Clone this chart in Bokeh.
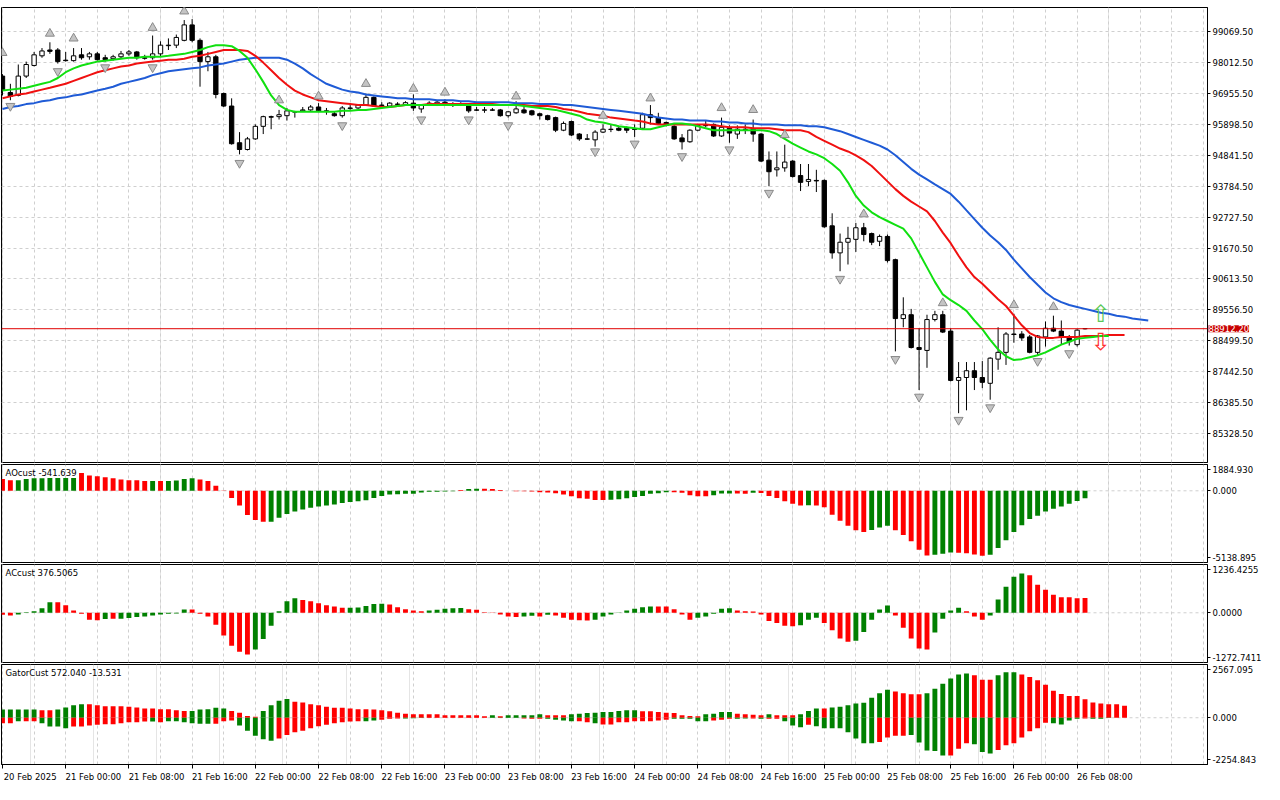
from bokeh.plotting import figure
from bokeh.layouts import column
from bokeh.models import (Range1d, FixedTicker, PrintfTickFormatter, Span, Label, Grid,
                          ColumnDataSource)
from bokeh.embed import file_html
from bokeh.resources import INLINE
from bokeh.core.properties import value

# ---------------- data (H1 bars, 20 Feb 16:00 .. 26 Feb 09:00) ----------------
open_ = [97550, 96988, 96889, 97550, 97913, 98243, 98442, 98442, 98094, 98078,
         98277, 98210, 98310, 98177, 98144, 98210, 98310, 98376, 98177, 98177,
         98310, 98590, 98607, 98772, 99300, 98772, 98045, 98210, 96955, 96526,
         95271, 95040, 95403, 95832, 96163, 96163, 96196, 96328, 96361, 96394,
         96493, 96361, 96262, 96196, 96460, 96460, 96559, 96823, 96559, 96526,
         96592, 96559, 96625, 96427, 96625, 96592, 96658, 96592, 96592, 96526,
         96394, 96384, 96394, 96394, 96196, 96295, 96394, 96361, 96262, 96196,
         96130, 95700, 95997, 95568, 95403, 95370, 95634, 95733, 95766, 95766,
         95733, 95766, 96229, 96130, 95964, 95832, 95436, 95304, 95700, 95865,
         95898, 95502, 95766, 95568, 95733, 95733, 95568, 94676, 94346, 94412,
         94643, 94148, 93949, 93983, 93983, 92430, 91505, 91869, 91968, 92364,
         92166, 91902, 92067, 91274, 89259, 89391, 88269, 88170, 89226, 89391,
         88830, 87145, 87244, 87476, 87244, 87046, 87872, 88104, 88731, 88731,
         88632, 88104, 88632, 88929, 88830, 88632, 88368, 88915]
high = [97616, 97286, 97946, 98045, 98376, 98508, 98706, 98508, 98376, 98508,
        98508, 98376, 98376, 98277, 98277, 98409, 98442, 98409, 98277, 98937,
        98739, 98838, 98970, 99466, 99499, 98838, 98376, 98277, 96988, 96790,
        95634, 95469, 95898, 96196, 96196, 96394, 96460, 96361, 96493, 96559,
        96625, 96460, 96328, 96526, 96559, 96592, 96955, 96856, 96658, 96658,
        96658, 96691, 96922, 96592, 96691, 96724, 96757, 96658, 96658, 96559,
        96493, 96493, 96460, 96427, 96361, 96691, 96526, 96394, 96295, 96229,
        96163, 95997, 96030, 95601, 95568, 95700, 95898, 95898, 95832, 95832,
        95898, 96295, 96559, 96295, 95997, 95865, 95568, 95733, 95898, 96030,
        95931, 96130, 95865, 95865, 95898, 96064, 95601, 94973, 94973, 95205,
        94676, 94544, 94544, 94346, 94016, 92859, 92166, 92397, 92529, 92529,
        92199, 92133, 92133, 91307, 89986, 89590, 88929, 89391, 89524, 89524,
        88929, 87773, 87773, 87773, 87806, 87938, 88962, 88797, 89424, 88830,
        88698, 88698, 89160, 89358, 89193, 88698, 88896, 88930]
low = [96889, 96724, 96856, 97484, 97880, 98177, 98310, 97978, 98045, 98045,
       98111, 98111, 98078, 98045, 98078, 98144, 98243, 98111, 98111, 98111,
       98210, 98442, 98508, 98739, 98706, 97187, 97715, 96790, 96493, 95205,
       94874, 95006, 95370, 95568, 95733, 96064, 96030, 96130, 96328, 96361,
       96328, 96229, 96163, 96130, 96394, 96427, 96526, 96493, 96493, 96493,
       96493, 96526, 96361, 96295, 96526, 96526, 96559, 96493, 96526, 96295,
       96361, 96295, 96361, 96163, 96130, 96262, 96262, 96196, 96064, 96030,
       95634, 95667, 95502, 95337, 95370, 95139, 95601, 95634, 95667, 95601,
       95469, 95733, 95898, 95898, 95832, 95370, 95040, 95271, 95667, 95799,
       95469, 95469, 95271, 95403, 95568, 95304, 94610, 93784, 94115, 94280,
       94082, 93619, 93784, 93586, 92364, 91307, 90878, 91108, 91538, 91902,
       91770, 91737, 91175, 88137, 88962, 88236, 86815, 87575, 89160, 88764,
       87112, 86023, 86122, 86815, 86881, 86485, 87509, 87674, 88434, 88500,
       88071, 88004, 88302, 88797, 88368, 88335, 88302, 88890]
close = [97087, 96856, 97550, 97946, 98277, 98409, 98395, 98045, 98078, 98243,
         98177, 98310, 98111, 98111, 98210, 98310, 98376, 98177, 98160, 98310,
         98607, 98607, 98871, 99300, 98772, 98045, 98210, 96922, 96526, 95238,
         95040, 95403, 95832, 96163, 96146, 96229, 96361, 96318, 96394, 96493,
         96361, 96345, 96196, 96460, 96444, 96559, 96823, 96526, 96542, 96625,
         96582, 96641, 96460, 96559, 96615, 96658, 96592, 96575, 96559, 96361,
         96384, 96394, 96384, 96196, 96328, 96427, 96295, 96229, 96196, 96064,
         95700, 95931, 95535, 95403, 95393, 95634, 95733, 95723, 95700, 95700,
         95723, 96229, 96130, 95931, 95865, 95403, 95304, 95700, 95865, 95855,
         95502, 95799, 95601, 95733, 95723, 95568, 94643, 94280, 94412, 94610,
         94115, 93916, 94016, 93966, 92397, 91505, 91869, 92001, 92364, 92133,
         91869, 92067, 91241, 89259, 89391, 88269, 88203, 89226, 89391, 88797,
         87145, 87244, 87476, 87244, 87079, 87905, 88104, 88731, 88715, 88599,
         88104, 88665, 88929, 88830, 88632, 88467, 88863, 88912.20]

# Alligator (jaw shifted 8, teeth 5, lips 3 bars forward)
jaw = [96427, 96493, 96526, 96592, 96625, 96691, 96724, 96790, 96823, 96889,
       96922, 96988, 97054, 97120, 97187, 97286, 97352, 97418, 97484, 97583,
       97649, 97715, 97748, 97781, 97814, 97847, 97913, 97946, 97978, 98045,
       98111, 98144, 98177, 98177, 98177, 98177, 98111, 97978, 97814, 97616,
       97451, 97286, 97187, 97087, 97021, 96988, 96922, 96889, 96856, 96823,
       96790, 96790, 96757, 96757, 96757, 96724, 96724, 96724, 96691, 96691,
       96658, 96658, 96658, 96658, 96658, 96625, 96625, 96625, 96592, 96592,
       96592, 96559, 96559, 96526, 96493, 96460, 96427, 96394, 96361, 96328,
       96295, 96262, 96196, 96130, 96097, 96064, 96064, 96030, 96030, 96030,
       95997, 95997, 95964, 95964, 95931, 95931, 95898, 95898, 95898, 95865,
       95865, 95865, 95832, 95832, 95799, 95733, 95667, 95568, 95469, 95370,
       95271, 95172, 95040, 94841, 94610, 94379, 94181, 94016, 93850, 93685,
       93520, 93256, 92958, 92661, 92364, 92100, 91869, 91604, 91274, 90977,
       90680, 90415, 90151, 89953, 89821, 89722, 89656, 89590, 89524, 89457,
       89424, 89358, 89325, 89259, 89226, 89193]
teeth = [96790, 96856, 96922, 96955, 97021, 97087, 97153, 97220, 97286, 97385,
         97484, 97583, 97682, 97748, 97814, 97880, 97913, 97978, 98011, 98045,
         98078, 98111, 98111, 98144, 98210, 98243, 98310, 98376, 98442, 98442,
         98442, 98409, 98243, 98011, 97748, 97484, 97253, 97054, 96922, 96823,
         96724, 96691, 96658, 96625, 96592, 96559, 96559, 96526, 96493, 96493,
         96526, 96559, 96559, 96559, 96592, 96592, 96592, 96592, 96592, 96592,
         96592, 96592, 96592, 96559, 96559, 96559, 96559, 96526, 96526, 96526,
         96493, 96427, 96394, 96328, 96262, 96229, 96196, 96130, 96097, 96064,
         96030, 95997, 95931, 95898, 95898, 95898, 95898, 95898, 95898, 95898,
         95865, 95832, 95799, 95799, 95799, 95766, 95766, 95766, 95733, 95700,
         95700, 95700, 95634, 95469, 95337, 95205, 95073, 94973, 94841, 94676,
         94478, 94214, 93949, 93685, 93454, 93256, 93091, 92925, 92595, 92199,
         91836, 91406, 91010, 90680, 90448, 90184, 89920, 89689, 89358, 89028,
         88764, 88632, 88599, 88599, 88632, 88632, 88632, 88665, 88665, 88665,
         88698, 88698, 88698]
lips = [97054, 97087, 97120, 97153, 97220, 97286, 97352, 97484, 97682, 97814,
        97913, 97978, 98045, 98078, 98111, 98144, 98177, 98177, 98210, 98210,
        98210, 98243, 98277, 98310, 98376, 98442, 98541, 98607, 98607, 98574,
        98409, 98177, 97781, 97352, 96889, 96559, 96394, 96328, 96328, 96328,
        96328, 96328, 96328, 96361, 96361, 96394, 96394, 96427, 96460, 96493,
        96526, 96559, 96559, 96559, 96559, 96559, 96559, 96559, 96559, 96559,
        96559, 96559, 96559, 96559, 96559, 96559, 96526, 96493, 96460, 96427,
        96394, 96328, 96262, 96196, 96064, 95997, 95964, 95898, 95832, 95799,
        95766, 95733, 95733, 95799, 95865, 95931, 95931, 95898, 95832, 95766,
        95700, 95700, 95700, 95700, 95700, 95700, 95700, 95667, 95568, 95403,
        95238, 95106, 94973, 94874, 94742, 94544, 94313, 93916, 93454, 93124,
        92892, 92727, 92595, 92463, 92331, 92001, 91505, 91010, 90514, 90085,
        89887, 89722, 89524, 89193, 88896, 88533, 88203, 87971, 87839, 87872,
        87938, 88004, 88104, 88236, 88368, 88467, 88566, 88599, 88632, 88665,
        88665]

# Fractals (bar index, marker price)
frac_up_idx = [0, 6, 9, 19, 23, 35, 40, 46, 52, 56, 65, 76, 82, 91, 95, 99, 109, 119, 128, 133]
frac_up_px = [98343, 99003, 98838, 99201, 99763, 96724, 96856, 97286, 97120, 96988,
              96856, 96196, 96790, 96460, 96394, 95535, 92827, 89788, 89722, 89656]
frac_dn_idx = [1, 7, 13, 19, 30, 43, 53, 59, 64, 75, 80, 86, 92, 97, 106, 113, 116, 121, 125, 131, 135]
frac_dn_px = [96526, 97715, 97847, 97847, 94577, 95865, 96064, 96064, 95865, 94973,
              95238, 94808, 95040, 93553, 90614, 87872, 86584, 85792, 86221, 87806, 88071]

# signal arrows
sig_idx = [139, 139]
sig_px = [89424, 88467]
sig_txt = ["\u21e7", "\u21e9"]
sig_col = ["#58c858", "#ff3030"]

last_price = 88912.20
price_ticks = [99069.5, 98012.5, 96955.5, 95898.5, 94841.5, 93784.5, 92727.5,
               91670.5, 90613.5, 89556.5, 88499.5, 87442.5, 86385.5, 85328.5]
price_lo, price_hi = 84338, 99895

ao = [854, 756, 760, 854, 903, 905, 910, 915, 920, 925,
      1269, 1098, 1049, 976, 903, 805, 756, 750, 708, 710,
      705, 710, 732, 854, 903, 805, 708, 366, -20, -512,
      -1049, -1732, -2098, -2220, -2210, -1928, -1659, -1488, -1342, -1220,
      -1122, -1049, -976, -878, -805, -756, -683, -512, -366, -268,
      -244, -220, -215, -122, -73, -70, -49, -24, 49, 122,
      146, 146, 122, 49, -5, -24, -26, -49, -98, -122,
      -171, -268, -390, -537, -561, -659, -665, -634, -610, -537,
      -439, -366, -220, -171, -98, -100, -146, -317, -390, -395,
      -317, -195, -190, -200, -205, -146, -150, -366, -512, -756,
      -927, -1049, -1040, -1049, -1171, -1708, -2147, -2513, -2830, -2952,
      -2806, -2635, -2513, -2830, -3172, -3611, -4221, -4636, -4587, -4514,
      -4416, -4440, -4470, -4563, -4660, -4587, -4099, -3538, -2952, -2464,
      -2025, -1781, -1488, -1293, -1122, -927, -732, -541.639]
ao_col = ("rrgggggggg" "rrrrrrrrrg" "rggggrrrrr" "rrrrgggggg" "gggggggggg"
          "ggggggggrg" "grrrrrrrrr" "rrrrrrrggg" "gggggrrrrr" "gggrrgrrrr"
          "rrgrrrrrrr" "gggrrrrrgg" "grrrrggggg" "gggggggg")
ao_lo, ao_hi = -5138.895, 1884.930

ac = [-51, -68, -42, 17, 42, 118, 270, 270, 194, 59,
      -25, -177, -194, -160, -152, -152, -135, -110, -93, -68,
      -42, -25, -17, 85, 85, -25, -93, -304, -583, -845,
      -997, -1065, -938, -668, -330, 42, 296, 372, 330, 296,
      245, 194, 160, 127, 127, 135, 177, 228, 230, 211,
      144, 93, 59, 42, 59, 76, 101, 118, 120, 93,
      76, 17, -8, -42, -93, -110, -93, -76, -93, -51,
      -68, -127, -177, -194, -196, -177, -93, -42, -8, 59,
      101, 144, 160, 160, 160, 93, -42, -177, -127, -93,
      -25, 101, 118, 59, 42, 34, -42, -211, -262, -330,
      -346, -321, -177, -127, -262, -448, -659, -744, -718, -490,
      -177, 85, 186, -68, -380, -659, -913, -938, -507, -152,
      59, 127, 42, -93, -177, -68, 338, 668, 921, 1006,
      963, 718, 592, 465, 397, 397, 372, 376.5065]
ac_col = ("rrgggggrrr" "rrrgrggggg" "ggggrrrrrr" "rrggggggrr" "rrrrgggggr"
          "rrrrgggggr" "rrrrrrggrg" "rrrrrggggg" "gggrrrrrgg" "gggrrrrrrr"
          "rgggrrrrgg" "gggrrrrrgg" "ggrrrggggg" "rrrrrrrr")
ac_lo, ac_hi = -1272.7411, 1236.4255

gator_up = [394, 394, 394, 394, 394, 361, 361, 394, 492, 607,
            656, 656, 607, 558, 558, 558, 525, 492, 443, 443,
            410, 410, 361, 328, 328, 394, 410, 476, 443, 328,
            246, 82, 49, 328, 607, 820, 902, 771, 738, 656,
            607, 525, 476, 476, 443, 410, 410, 394, 361, 312,
            246, 197, 164, 164, 164, 164, 115, 115, 115, 115,
            115, 66, 115, 66, 115, 115, 115, 115, 164, 115,
            115, 115, 164, 197, 230, 246, 279, 279, 328, 361,
            361, 312, 312, 279, 246, 230, 115, 82, 66, 164,
            197, 279, 279, 197, 164, 148, 115, 164, 115, 115,
            115, 164, 328, 443, 443, 492, 525, 607, 689, 722,
            968, 1181, 1345, 1263, 1181, 1132, 1132, 1181, 1394, 1640,
            1886, 2083, 2132, 2050, 1837, 1837, 2050, 2198, 2198, 2083,
            1968, 1804, 1591, 1296, 1148, 1050, 1050, 886, 738, 689,
            656, 656, 572.040]
gator_up_col = ("gggggrrggg" "grrrrrrrrr" "rrrrgggggr" "rrrggggrrr" "rrrrrrrrrr"
                "rrrrrrrrrr" "rrgrgggggr" "rrgggggggg" "grrrrrrrrg" "gggrrrrgrr"
                "rgggrggggg" "gggrrrrggg" "gggrrrgggr" "rrrrrrrrrr" "rrr")
gator_dn = [-262, -262, -164, -164, -164, -262, -426, -426, -508, -426,
            -426, -377, -344, -311, -311, -262, -213, -213, -180, -180,
            -213, -164, -164, -213, -262, -295, -295, -295, -164, -131,
            -377, -623, -869, -1033, -1115, -1000, -836, -705, -623, -508,
            -410, -344, -262, -213, -180, -164, -164, -131, -98, -49,
            -33, -33, -20, -15, -15, -15, -10, -10, -10, -10,
            -10, -10, -15, -15, -15, -15, -33, -49, -49, -49,
            -98, -131, -164, -164, -213, -262, -328, -328, -213, -213,
            -164, -164, -164, -131, -98, -49, -49, -49, -164, -164,
            -131, -98, -49, -49, -33, -33, -49, -49, -49, -164,
            -377, -459, -344, -410, -508, -508, -508, -705, -1000, -1230,
            -1230, -1164, -951, -869, -869, -836, -1197, -1574, -1607, -1820,
            -1820, -1492, -1230, -1279, -1656, -1722, -1558, -1328, -1230, -951,
            -656, -508, -246, -262, -328, -131, -49, -33, -49, -49,
            -13.531]
gator_dn_col = ("rrgrrggggr" "rrrrrrrrrg" "rggggggrrr" "gggggrrrrr" "rrrrrrggrr"
                "rgggrrrrrr" "rrggggrrrg" "gggrrgrrrr" "rrrrrggggg" "rrrggrgrrg"
                "ggrggggggg" "grrrrggggg" "rrrgggrrrr" "rrrggggrgg" "g")
gator_lo, gator_hi = -2254.843, 2567.095

time_labels = ["20 Feb 2025", "21 Feb 00:00", "21 Feb 08:00", "21 Feb 16:00",
               "22 Feb 00:00", "22 Feb 08:00", "22 Feb 16:00", "23 Feb 00:00",
               "23 Feb 08:00", "23 Feb 16:00", "24 Feb 00:00", "24 Feb 08:00",
               "24 Feb 16:00", "25 Feb 00:00", "25 Feb 08:00", "25 Feb 16:00",
               "26 Feb 00:00", "26 Feb 08:00"]
label_step = 8
grid_step = 4

# ---------------- styling ----------------
FONT = "DejaVu Sans"
FS = "8.5px"
GRID_C = "#cfcfcf"
GREEN = "#008000"
RED = "#ff0000"
W = 1264
RB = 57
CMAP = {"g": GREEN, "r": RED}
LABEL_SHIFT = 3.5      # half a time label, in bars: labels start at their tick like MT
EDGE_INSET_PX = 5      # MT draws the range extremes a few px inside the panel

x_rng = Range1d(-0.125, 152.5)
grid_ticks = list(range(0, 153, grid_step))


def base_fig(height, lo, hi, bottom_axis=False, top_border=1):
    f = figure(width=W, height=height, x_range=x_rng, y_range=Range1d(lo, hi),
               output_backend="svg", toolbar_location=None,
               x_axis_location="below" if bottom_axis else None,
               y_axis_location="right",
               min_border_left=1, min_border_right=RB, min_border_top=top_border,
               min_border_bottom=0 if bottom_axis else 1,
               background_fill_color="white", border_fill_color="white",
               outline_line_color="black", outline_line_width=1)
    f.ygrid.visible = False
    f.add_layout(Grid(dimension=0, ticker=FixedTicker(ticks=grid_ticks),
                      grid_line_color=GRID_C, grid_line_dash="3 3"))
    ax = f.yaxis[0]
    ax.axis_line_color = "black"
    ax.major_tick_out = 3
    ax.major_tick_in = 0
    ax.minor_tick_line_color = None
    ax.major_label_standoff = 2
    ax.major_label_text_font = FONT
    ax.major_label_text_font_size = FS
    ax.major_label_text_color = "black"
    return f


# ---------------- main price panel ----------------
p = base_fig(463, price_lo, price_hi, top_border=0)
p.ygrid.visible = True
p.ygrid.ticker = FixedTicker(ticks=price_ticks)
p.ygrid.grid_line_color = GRID_C
p.ygrid.grid_line_dash = "3 3"
p.yaxis[0].ticker = FixedTicker(ticks=price_ticks)
p.yaxis[0].formatter = PrintfTickFormatter(format="%.2f")

idx = list(range(len(close)))
csrc = ColumnDataSource(dict(
    x=idx, h=high, l=low,
    top=[max(o, c) for o, c in zip(open_, close)],
    bot=[min(o, c) for o, c in zip(open_, close)],
    fill=["white" if c > o else "black" for o, c in zip(open_, close)]))
p.segment(x0="x", y0="h", x1="x", y1="l", source=csrc, line_color="black", line_width=1)
p.vbar(x="x", width=0.55, top="top", bottom="bot", source=csrc,
       fill_color="fill", line_color="black", line_width=1)

p.line(list(range(len(jaw))), jaw, line_color="#1f5bd6", line_width=2)
p.line(list(range(len(teeth))), teeth, line_color="#f01010", line_width=2)
p.line(list(range(len(lips))), lips, line_color="#10e010", line_width=2)

p.scatter(frac_up_idx, frac_up_px, marker="triangle", size=9,
          fill_color="#c4c4c4", line_color="#8a8a8a", line_width=1)
p.scatter(frac_dn_idx, frac_dn_px, marker="inverted_triangle", size=9,
          fill_color="#c4c4c4", line_color="#8a8a8a", line_width=1)

p.text(x=sig_idx, y=sig_px, text=sig_txt, text_color=sig_col,
       text_font=value(FONT), text_font_size="24px",
       text_align="center", text_baseline="middle")

p.add_layout(Span(location=last_price, dimension="width", line_color="#e00000", line_width=1))
# the price tag is positioned by the price scale; hosting it in a side panel keeps it
# from being clipped to the frame, so it can sit over the price axis like in MT
p.add_layout(Label(x=x_rng.end, y=last_price, x_offset=1, text=f"{last_price:.2f}",
                   text_color="white", text_font=FONT, text_font_size=FS,
                   text_baseline="middle", background_fill_color="#c80000",
                   background_fill_alpha=1.0), "above")


# ---------------- indicator panels ----------------
def indicator(height, lo, hi, fmt, title, bottom_axis=False):
    f = base_fig(height, lo, hi, bottom_axis)
    d = (hi - lo) * EDGE_INSET_PX / 98.0
    t_lo, t_hi = round(lo + d), round(hi - d)
    f.yaxis[0].ticker = FixedTicker(ticks=[t_lo, 0, t_hi])
    f.yaxis[0].major_label_overrides = {t_lo: fmt % lo, 0: fmt % 0, t_hi: fmt % hi}
    f.add_layout(Span(location=0, dimension="width", line_color=GRID_C,
                      line_dash="3 3", level="underlay"))
    f.add_layout(Label(x=x_rng.start, y=hi, x_offset=4, y_offset=-3, text=title,
                       text_font=FONT, text_font_size=FS, text_color="black",
                       text_baseline="top"))
    return f


ao_f = indicator(100, ao_lo, ao_hi, "%.3f", f"AOcust {ao[-1]:.3f}")
ao_f.vbar(x=list(range(len(ao))), top=ao, bottom=0, width=0.62,
          fill_color=[CMAP[c] for c in ao_col], line_color=None)

ac_f = indicator(100, ac_lo, ac_hi, "%.4f", f"ACcust {ac[-1]:.4f}")
ac_f.vbar(x=list(range(len(ac))), top=ac, bottom=0, width=0.62,
          fill_color=[CMAP[c] for c in ac_col], line_color=None)

g_f = indicator(121, gator_lo, gator_hi, "%.3f",
                f"GatorCust {gator_up[-1]:.3f} {gator_dn[-1]:.3f}", bottom_axis=True)
g_f.vbar(x=list(range(len(gator_up))), top=gator_up, bottom=0, width=0.62,
         fill_color=[CMAP[c] for c in gator_up_col], line_color=None)
g_f.vbar(x=list(range(len(gator_dn))), top=0, bottom=gator_dn, width=0.62,
         fill_color=[CMAP[c] for c in gator_dn_col], line_color=None)

tick_pos = [i * label_step for i in range(len(time_labels))]
label_pos = [t + LABEL_SHIFT for t in tick_pos]
xa = g_f.xaxis[0]
xa.ticker = FixedTicker(ticks=label_pos, minor_ticks=tick_pos)
xa.major_label_overrides = {t: s for t, s in zip(label_pos, time_labels)}
xa.major_label_text_font = FONT
xa.major_label_text_font_size = FS
xa.major_label_text_color = "black"
xa.major_tick_line_color = None
xa.major_tick_out = 4
xa.minor_tick_line_color = "black"
xa.minor_tick_out = 4
xa.minor_tick_in = 0
xa.axis_line_color = "black"
xa.major_label_standoff = 3

layout = column(p, ao_f, ac_f, g_f, spacing=0)
open("out.html", "w").write(file_html(layout, INLINE, title="chart"))
